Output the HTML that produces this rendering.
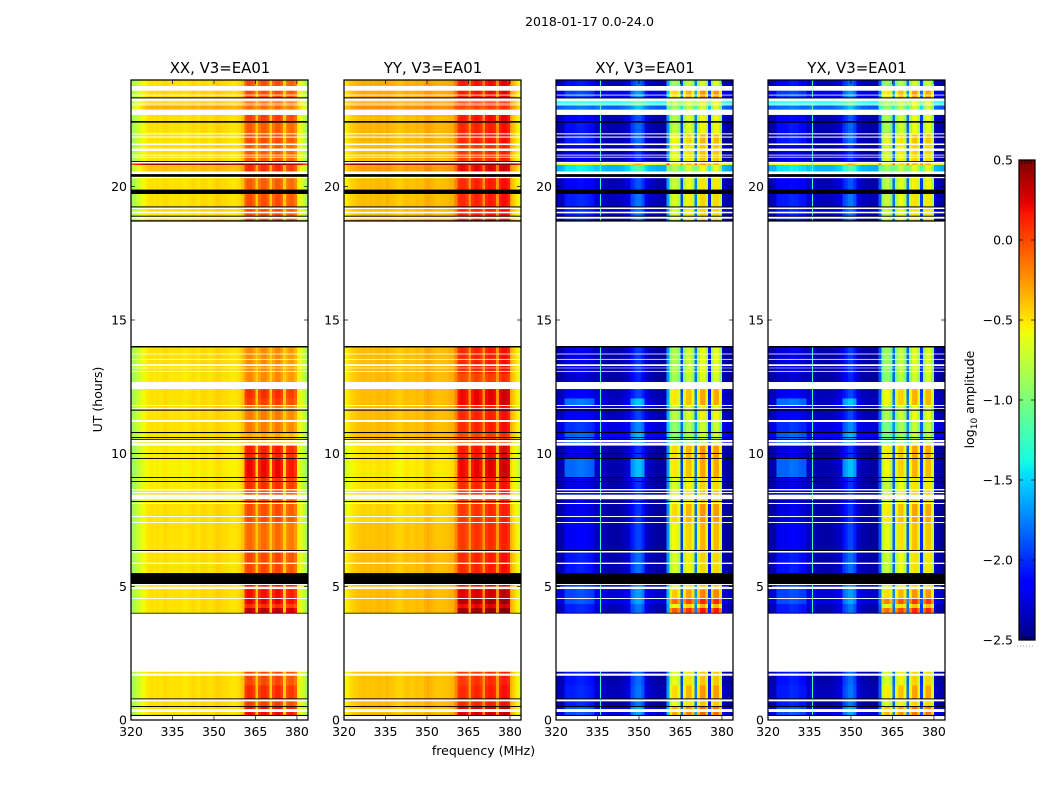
<!DOCTYPE html>
<html lang="en">
<head>
<meta charset="utf-8">
<title>2018-01-17 0.0-24.0</title>
<style>
html,body{margin:0;padding:0;background:#fff;}
svg{display:block;}
text{font-family:"DejaVu Sans","Liberation Sans",sans-serif;font-size:12.5px;fill:#000;}
.ttl{font-size:14.9px;}
</style>
</head>
<body>
<svg id="figure" xmlns="http://www.w3.org/2000/svg" width="1050" height="800" viewBox="0 0 1050 800">
<rect width="1050" height="800" fill="#fff"/>
<text x="589.5" y="26" text-anchor="middle">2018-01-17 0.0-24.0</text>
<text x="483.5" y="755" text-anchor="middle">frequency (MHz)</text>
<text transform="translate(102,399.5) rotate(-90)" text-anchor="middle">UT (hours)</text>
<text transform="translate(974,399.5) rotate(-90)" text-anchor="middle">log<tspan font-size="9" dy="3">10</tspan><tspan dy="-3"> amplitude</tspan></text>
</svg>
<script>
// ---- chart data ----
const panelTitles = ["XX, V3=EA01", "YY, V3=EA01", "XY, V3=EA01", "YX, V3=EA01"];
const xTickValues = [320, 335, 350, 365, 380];
const yTickValues = [0, 5, 10, 15, 20];
const colorbarTicks = [0.5, 0.0, -0.5, -1.0, -1.5, -2.0, -2.5];
const firstChannelMHz = 320;
const channelCount = 64;
const firstTileChannel = 41;
const lastTileChannel = 59;
const tileGapChannels = [45, 50, 55];
const crossPatchChannels = [3,4,5,6,7,8,9,10,11,12,13,27,28,29,30,31];
const rfiLineMHz = [335.9];
const rfiLineValue = [-1.25];

// log10 amplitude per 1 MHz channel
const profileXX = [-0.85,-0.80,-0.72,-0.64,-0.58,-0.53,-0.50,-0.48,-0.50,-0.48,-0.50,-0.48,-0.46,-0.48,-0.50,-0.49,
  -0.49,-0.48,-0.50,-0.51,-0.50,-0.48,-0.46,-0.48,-0.50,-0.47,-0.45,-0.47,-0.49,-0.48,-0.45,-0.43,
  -0.45,-0.47,-0.47,-0.48,-0.50,-0.50,-0.48,-0.45,-0.38,-0.16,-0.10,-0.10,-0.18,-0.40,-0.20,-0.11,
  -0.10,-0.18,-0.42,-0.20,-0.10,-0.10,-0.18,-0.42,-0.23,-0.16,-0.16,-0.26,-0.52,-0.62,-0.74,-0.85];
const profileYY = [-0.55,-0.50,-0.45,-0.42,-0.40,-0.38,-0.37,-0.36,-0.38,-0.36,-0.38,-0.37,-0.35,-0.36,-0.38,-0.34,
  -0.37,-0.38,-0.40,-0.42,-0.43,-0.40,-0.37,-0.38,-0.40,-0.38,-0.36,-0.38,-0.38,-0.33,-0.30,-0.33,
  -0.36,-0.38,-0.38,-0.38,-0.37,-0.36,-0.34,-0.32,-0.18,-0.03,0.01,0.00,-0.05,-0.22,-0.03,0.03,
  0.03,-0.03,-0.22,0.00,0.05,0.05,0.00,-0.24,0.03,0.09,0.09,0.03,-0.32,-0.42,-0.52,-0.62];
const profileXY = [-2.42,-2.40,-2.38,-2.36,-2.34,-2.35,-2.34,-2.32,-2.30,-2.30,-2.32,-2.34,-2.36,-2.38,-2.34,-2.30,
  -2.34,-2.38,-2.40,-2.40,-2.40,-2.40,-2.40,-2.38,-2.36,-2.32,-2.28,-2.22,-2.14,-2.08,-2.08,-2.18,
  -2.28,-2.34,-2.38,-2.38,-2.42,-2.42,-2.42,-2.42,-1.70,-0.90,-0.72,-0.70,-0.88,-1.95,-0.82,-0.60,
  -0.58,-0.80,-1.80,-0.75,-0.50,-0.48,-0.75,-2.10,-0.75,-0.50,-0.50,-0.80,-2.36,-2.40,-2.42,-2.45];
const profileYX = [-2.42,-2.40,-2.40,-2.36,-2.36,-2.35,-2.36,-2.34,-2.30,-2.32,-2.32,-2.36,-2.38,-2.38,-2.36,-2.30,
  -2.34,-2.38,-2.40,-2.40,-2.40,-2.40,-2.40,-2.38,-2.36,-2.32,-2.30,-2.24,-2.16,-2.08,-2.08,-2.20,
  -2.30,-2.36,-2.40,-2.38,-2.42,-2.42,-2.42,-2.42,-1.90,-0.95,-0.78,-0.76,-0.95,-1.85,-0.88,-0.65,
  -0.62,-0.85,-1.85,-0.80,-0.55,-0.52,-0.80,-2.00,-0.80,-0.55,-0.55,-0.85,-2.36,-2.40,-2.42,-2.45];

// [top UT, bottom UT, XX off-band, XX tile, YY off-band, YY tile, cross off-band, cross tile, cross patch boost]
const dataRows = [
 [24.00,23.60, 0.00, 0.10, 0.05, 0.15, 0.05,-0.15, 0.20],
 [23.60,23.31, 0.02, 0.10, 0.05, 0.15, 0.20, 0.25, 0.20],
 [23.31,23.05, 0.08, 0.05, 0.10, 0.05, 1.00,-0.05, 0.00],
 [23.05,22.89, 0.15, 0.00, 0.15, 0.00, 0.55,-0.15, 0.00],
 [22.89,22.43, 0.00, 0.15, 0.00, 0.15, 0.05,-0.05, 0.15],
 [22.43,22.00, 0.00, 0.05, 0.02, 0.10, 0.00,-0.05, 0.25],
 [22.00,21.62, 0.00, 0.10, 0.02, 0.10, 0.00, 0.15, 0.30],
 [21.62,20.96, 0.00, 0.05, 0.00, 0.05, 0.00, 0.10, 0.10],
 [20.96,20.82, 0.90, 0.55, 0.85, 0.50, 1.75, 0.20, 0.00],
 [20.82,20.57, 0.10, 0.20, 0.10, 0.20, 0.80,-0.10, 0.10],
 [20.57,19.89, 0.00, 0.05, 0.00, 0.10, 0.05, 0.00, 0.15],
 [19.89,18.69, 0.00, 0.10, 0.00, 0.10, 0.05, 0.05, 0.25],
 [14.03,13.00, 0.00,-0.10, 0.00, 0.10, 0.02,-0.10, 0.10],
 [13.00,12.41,-0.02,-0.10, 0.00, 0.00, 0.00,-0.15, 0.05],
 [12.41,12.05, 0.00, 0.20, 0.00, 0.20, 0.05, 0.20, 0.10],
 [12.05,11.80, 0.00, 0.15, 0.00, 0.20, 0.10, 0.20, 0.45],
 [11.80,11.25, 0.00,-0.05, 0.00, 0.10, 0.05,-0.05, 0.10],
 [11.25,10.80, 0.00,-0.05, 0.00, 0.10, 0.15,-0.20, 0.20],
 [10.80,10.29, 0.00,-0.20, 0.00, 0.00, 0.20,-0.20, 0.30],
 [10.29, 9.80,-0.03, 0.25,-0.12, 0.15, 0.00, 0.25, 0.10],
 [ 9.80, 9.10,-0.05, 0.32,-0.14, 0.20, 0.02, 0.20, 0.50],
 [ 9.10, 8.60,-0.03, 0.20,-0.12, 0.10, 0.00, 0.05, 0.10],
 [ 8.60, 8.10,-0.03, 0.10,-0.12, 0.05, 0.00, 0.10, 0.10],
 [ 8.10, 7.40, 0.00, 0.10,-0.08, 0.05, 0.00, 0.25, 0.10],
 [ 7.40, 6.34, 0.00, 0.00,-0.02, 0.05, 0.00, 0.15, 0.15],
 [ 6.34, 5.51, 0.00, 0.12, 0.00, 0.10, 0.02, 0.05, 0.25],
 [ 5.10, 4.90, 0.00, 0.30, 0.00, 0.20, 0.10, 0.10, 0.25],
 [ 4.90, 4.55, 0.00, 0.30, 0.00, 0.25, 0.12, 0.30, 0.30],
 [ 4.55, 4.35, 0.00, 0.35, 0.00, 0.35, 0.15, 0.60, 0.30],
 [ 4.35, 4.20, 0.00, 0.20, 0.00, 0.20, 0.05, 0.15, 0.25],
 [ 4.20, 4.00, 0.00, 0.45, 0.00, 0.40, 0.05, 0.65, 0.25],
 [ 1.81, 1.30, 0.00, 0.12,-0.02, 0.05, 0.02, 0.10, 0.25],
 [ 1.30, 0.81, 0.00, 0.22,-0.02, 0.10, 0.05, 0.25, 0.25],
 [ 0.81, 0.49, 0.00, 0.15, 0.00, 0.10, 0.00, 0.10, 0.30],
 [ 0.49, 0.15, 0.00, 0.30, 0.00, 0.25, 0.15, 0.40, 0.30]
];

// [top UT, bottom UT] ranges with no data
const whiteRanges = [[23.775,23.60],[23.45,23.42],[23.31,23.22],[23.19,23.17],[23.14,23.12],[23.08,23.05],
 [22.89,22.69],[22.00,21.96],[21.88,21.84],[21.62,21.56],[21.43,21.34],[21.20,21.17],[21.12,21.09],
 [20.93,20.87],[20.57,20.46],[20.37,20.32],[19.22,19.16],[19.06,19.00],[18.875,18.80],[18.69,14.03],
 [13.74,13.71],[13.54,13.51],[13.34,13.275],[13.21,13.19],[13.09,13.06],[12.675,12.41],[11.81,11.775],
 [11.70,11.67],[11.25,11.175],[10.50,10.425],[10.40,10.29],[8.66,8.61],[8.55,8.51],[8.45,8.28],[8.14,8.10],
 [7.65,7.61],[7.425,7.39],[6.34,6.28],[5.90,5.85],[5.10,5.06],[5.00,4.91],[4.575,4.54],[3.99,1.81],
 [1.74,1.66],[0.775,0.70],[0.41,0.30],[0.15,0.00]];
// [top UT, bottom UT] ranges drawn solid black
const blackRanges = [[23.35,23.31],[22.46,22.40],[20.96,20.93],[20.47,20.37],[19.89,19.725],[19.26,19.22],
 [18.91,18.875],[18.74,18.69],[14.025,13.97],[11.64,11.60],[10.80,10.76],[10.61,10.575],[10.54,10.51],
 [10.01,9.975],[9.825,9.79],[9.11,9.075],[8.96,8.925],[8.21,8.175],[6.375,6.34],[5.51,5.10],[4.02,3.99],
 [0.81,0.775],[0.525,0.49],[0.19,0.15]];

// ---- layout ----
const svgNS = "http://www.w3.org/2000/svg";
const fig = document.getElementById("figure");
const panelLefts = [131, 344, 556, 768];
const panelWidth = 177, plotTop = 80, plotBottom = 720, hoursSpan = 24, mhzSpan = 64;
const cbarLeft = 1019, cbarRight = 1035, cbarTop = 160, cbarBottom = 640, vMin = -2.5, vMax = 0.5;
const profiles = [profileXX, profileYY, profileXY, profileYX];
const panelKeys = ["xx", "yy", "xy", "yx"];

function xScale(left, mhz) { return left + (mhz - firstChannelMHz) / mhzSpan * panelWidth; }
function yScale(ut) { return plotBottom - ut / hoursSpan * (plotBottom - plotTop); }
function cScale(v) { return cbarBottom - (v - vMin) / (vMax - vMin) * (cbarBottom - cbarTop); }
function lerpStops(stops, f) {
  for (let i = 1; i < stops.length; i++) {
    if (f <= stops[i][0]) {
      const a = stops[i - 1], b = stops[i];
      return a[1] + (b[1] - a[1]) * (f - a[0]) / (b[0] - a[0]);
    }
  }
  return stops[stops.length - 1][1];
}
const jetR = [[0,0],[0.35,0],[0.66,1],[0.89,1],[1,0.5]];
const jetG = [[0,0],[0.125,0],[0.375,1],[0.64,1],[0.91,0],[1,0]];
const jetB = [[0,0.5],[0.11,1],[0.34,1],[0.65,0],[1,0]];
function jet(v) {
  const f = Math.max(0, Math.min(1, (v - vMin) / (vMax - vMin)));
  return "rgb(" + Math.round(255 * lerpStops(jetR, f)) + "," + Math.round(255 * lerpStops(jetG, f)) + "," + Math.round(255 * lerpStops(jetB, f)) + ")";
}
function mk(tag, attrs, parent) {
  const el = document.createElementNS(svgNS, tag);
  for (const k in attrs) el.setAttribute(k, attrs[k]);
  parent.appendChild(el);
  return el;
}
function isTile(ch) { return ch >= firstTileChannel && ch <= lastTileChannel && tileGapChannels.indexOf(ch) < 0; }
function cellValue(p, ch, row) {
  const base = profiles[p][ch];
  const col = p === 0 ? 2 : p === 1 ? 4 : 6;
  const patch = (p >= 2 && crossPatchChannels.indexOf(ch) >= 0) ? row[8] : 0;
  return base + (isTile(ch) ? row[col + 1] : row[col]) + patch;
}

// ---- panels ----
panelLefts.forEach(function (left, p) {
  const g = mk("g", {}, fig);
  
  
  const cells = mk("g", { "shape-rendering": "crispEdges" }, g);
  
  
  dataRows.forEach(function (row) {
    for (let ch = 0; ch < channelCount; ch++) {
      const x0 = xScale(left, firstChannelMHz + ch), x1 = xScale(left, firstChannelMHz + ch + 1);
      const c = mk("rect", { x: x0, y: yScale(row[0]), width: x1 - x0, height: yScale(row[1]) - yScale(row[0]), fill: jet(cellValue(p, ch, row)) }, cells);
      
      
    }
    if (p >= 2) {
      rfiLineMHz.forEach(function (mhz, i) {
        const l = mk("rect", { x: xScale(left, mhz), y: yScale(row[0]), width: 1, height: yScale(row[1]) - yScale(row[0]), fill: jet(rfiLineValue[i]) }, cells);
        
        
      });
    }
  });
  whiteRanges.forEach(function (r) {
    const b = mk("rect", { x: left, y: yScale(r[0]), width: panelWidth, height: yScale(r[1]) - yScale(r[0]), fill: "#fff" }, g);
    
    
  });
  blackRanges.forEach(function (r) {
    const b = mk("rect", { x: left, y: yScale(r[0]), width: panelWidth, height: yScale(r[1]) - yScale(r[0]), fill: "#000" }, g);
    
    
  });
  const tickLen = 4;
  xTickValues.forEach(function (v) {
    const x = xScale(left, v);
    const t1 = mk("line", { x1: x, x2: x, y1: plotBottom, y2: plotBottom - tickLen, stroke: "#000", "stroke-width": 0.7 }, g);
    
    
    const t2 = mk("line", { x1: x, x2: x, y1: plotTop, y2: plotTop + tickLen, stroke: "#000", "stroke-width": 0.7 }, g);
    
    
    const lab = mk("text", { x: x, y: 736, "text-anchor": "middle" }, g);
    lab.textContent = String(v);
    
    
  });
  yTickValues.forEach(function (v) {
    const y = yScale(v);
    const t1 = mk("line", { x1: left, x2: left + tickLen, y1: y, y2: y, stroke: "#000", "stroke-width": 0.7 }, g);
    
    
    const t2 = mk("line", { x1: left + panelWidth, x2: left + panelWidth - tickLen, y1: y, y2: y, stroke: "#000", "stroke-width": 0.7 }, g);
    
    
    const lab = mk("text", { x: left - 4, y: y + 4.5, "text-anchor": "end" }, g);
    lab.textContent = String(v);
    
    
  });
  const frame = mk("rect", { x: left, y: plotTop, width: panelWidth, height: plotBottom - plotTop, fill: "none", stroke: "#000", "stroke-width": 1.25 }, g);
  
  
  const title = mk("text", { x: left + panelWidth / 2 + 0.5, y: 73, "text-anchor": "middle", class: "ttl" }, g);
  title.textContent = panelTitles[p];
  
  
});

// ---- colorbar ----
const cbar = mk("g", {}, fig);


const cbarSteps = mk("g", { "shape-rendering": "crispEdges" }, cbar);


for (let i = 0; i < 256; i++) {
  const v0 = vMin + (vMax - vMin) * i / 256, v1 = vMin + (vMax - vMin) * (i + 1) / 256;
  const s = mk("rect", { x: cbarLeft, width: cbarRight - cbarLeft, y: cScale(v1), height: cScale(v0) - cScale(v1) + 0.5, fill: jet((v0 + v1) / 2) }, cbarSteps);
  
  
}
colorbarTicks.forEach(function (v) {
  const y = cScale(v);
  const t1 = mk("line", { x1: cbarLeft, x2: cbarLeft + 4, y1: y, y2: y, stroke: "#000", "stroke-width": 0.7 }, cbar);
  
  
  const t2 = mk("line", { x1: cbarRight, x2: cbarRight - 4, y1: y, y2: y, stroke: "#000", "stroke-width": 0.7 }, cbar);
  
  
  const lab = mk("text", { x: 1013, y: y + 4.5, "text-anchor": "end" }, cbar);
  lab.textContent = v.toFixed(1).replace("-", "\u2212");
  
  
});
[1022, 1025, 1028, 1031].forEach(function (x) {
  const a = mk("line", { x1: x, x2: x, y1: cbarTop, y2: cbarTop + 4, stroke: "#000", "stroke-width": 0.7 }, cbar);
  
  
  const b = mk("line", { x1: x, x2: x, y1: cbarBottom, y2: cbarBottom - 4, stroke: "#000", "stroke-width": 0.7 }, cbar);
  
  
});
const cframe = mk("rect", { x: cbarLeft, y: cbarTop, width: cbarRight - cbarLeft, height: cbarBottom - cbarTop, fill: "none", stroke: "#000", "stroke-width": 1.25 }, cbar);


const dots = mk("line", { x1: 1017, x2: 1035, y1: 646, y2: 646, stroke: "#999", "stroke-width": 1, "stroke-dasharray": "1 2" }, cbar);


</script>
</body>
</html>
